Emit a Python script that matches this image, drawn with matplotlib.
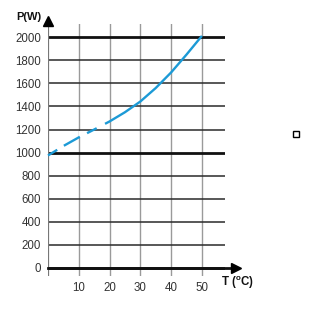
import matplotlib
matplotlib.use("Agg")
import matplotlib.pyplot as plt
import matplotlib.patches as mpatches

plt.rcParams["font.family"] = ["Liberation Sans", "DejaVu Sans"]
plt.rcParams["lines.scale_dashes"] = False

# Data
temps = [0, 5, 10, 15, 20, 25, 30, 35, 40, 45, 50]
power = [975, 1057, 1132, 1200, 1270, 1350, 1443, 1560, 1695, 1850, 2012]

x_ticks = [10, 20, 30, 40, 50]
y_ticks = [0, 200, 400, 600, 800, 1000, 1200, 1400, 1600, 1800, 2000]
major_lines = [0, 1000, 2000]

fig = plt.figure(figsize=(3.09, 3.17), dpi=100)
fig.patch.set_facecolor("white")
ax = fig.add_axes([48 / 309, 41 / 317, 177 / 309, 252 / 317])
ax.set_xlim(0, 57.5)
ax.set_ylim(-70, 2115)

for s in ax.spines.values():
    s.set_visible(False)

# grid
for xv in x_ticks:
    ax.axvline(xv, color="#9a9a9a", linewidth=1.0, zorder=1)
for yv in y_ticks:
    if yv in major_lines:
        ax.axhline(yv, color="#111111", linewidth=2.0, zorder=2)
    else:
        ax.axhline(yv, color="#2a2a2a", linewidth=1.1, zorder=2)

# y axis line + arrow
ax.axvline(0, color="#777777", linewidth=1.6, zorder=3)
ax.plot([0], [2139], marker="^", markersize=7, color="black", clip_on=False, zorder=4)

# x axis line + arrow
ax.plot([0, 60], [0, 0], color="#111111", linewidth=2.0, clip_on=False, zorder=3)
ax.plot([61], [0], marker=">", markersize=7, color="black", clip_on=False, zorder=4)

# small white patch over the grid near 1200
ax.add_patch(mpatches.Rectangle((10.0, 1130), 2.0, 55, facecolor="white",
                                edgecolor="none", zorder=3))

# curve: dashed at the start, solid afterwards
ax.plot(temps, power, color="#1c9ad6", linewidth=1.7, zorder=5,
        linestyle=(0, (7.8, 5.6, 13.2, 5.8, 7.8, 6.8, 1000, 1)),
        clip_on=False)

ax.set_xticks(x_ticks)
ax.set_yticks(y_ticks)
ax.tick_params(axis="both", length=0, labelsize=8.3, labelcolor="#333333")
ax.tick_params(axis="y", pad=5)
ax.tick_params(axis="x", pad=4)

fig.text(41 / 309, 1 - 17 / 317, "P(W)", ha="right", va="center",
         fontsize=8, fontweight="bold", color="#111111")
fig.text(221 / 309, 1 - 283 / 317, r"T ($\mathregular{^o}$C)", ha="left",
         va="center", fontsize=8.3, fontweight="bold", color="#111111")

# small hollow square at the right
fig.patches.append(mpatches.Rectangle((293 / 309, 1 - 137 / 317), 6 / 309, 6 / 317,
                                      transform=fig.transFigure, facecolor="white",
                                      edgecolor="black", linewidth=1.0))

fig.savefig("out.png", dpi=100, facecolor="white")
